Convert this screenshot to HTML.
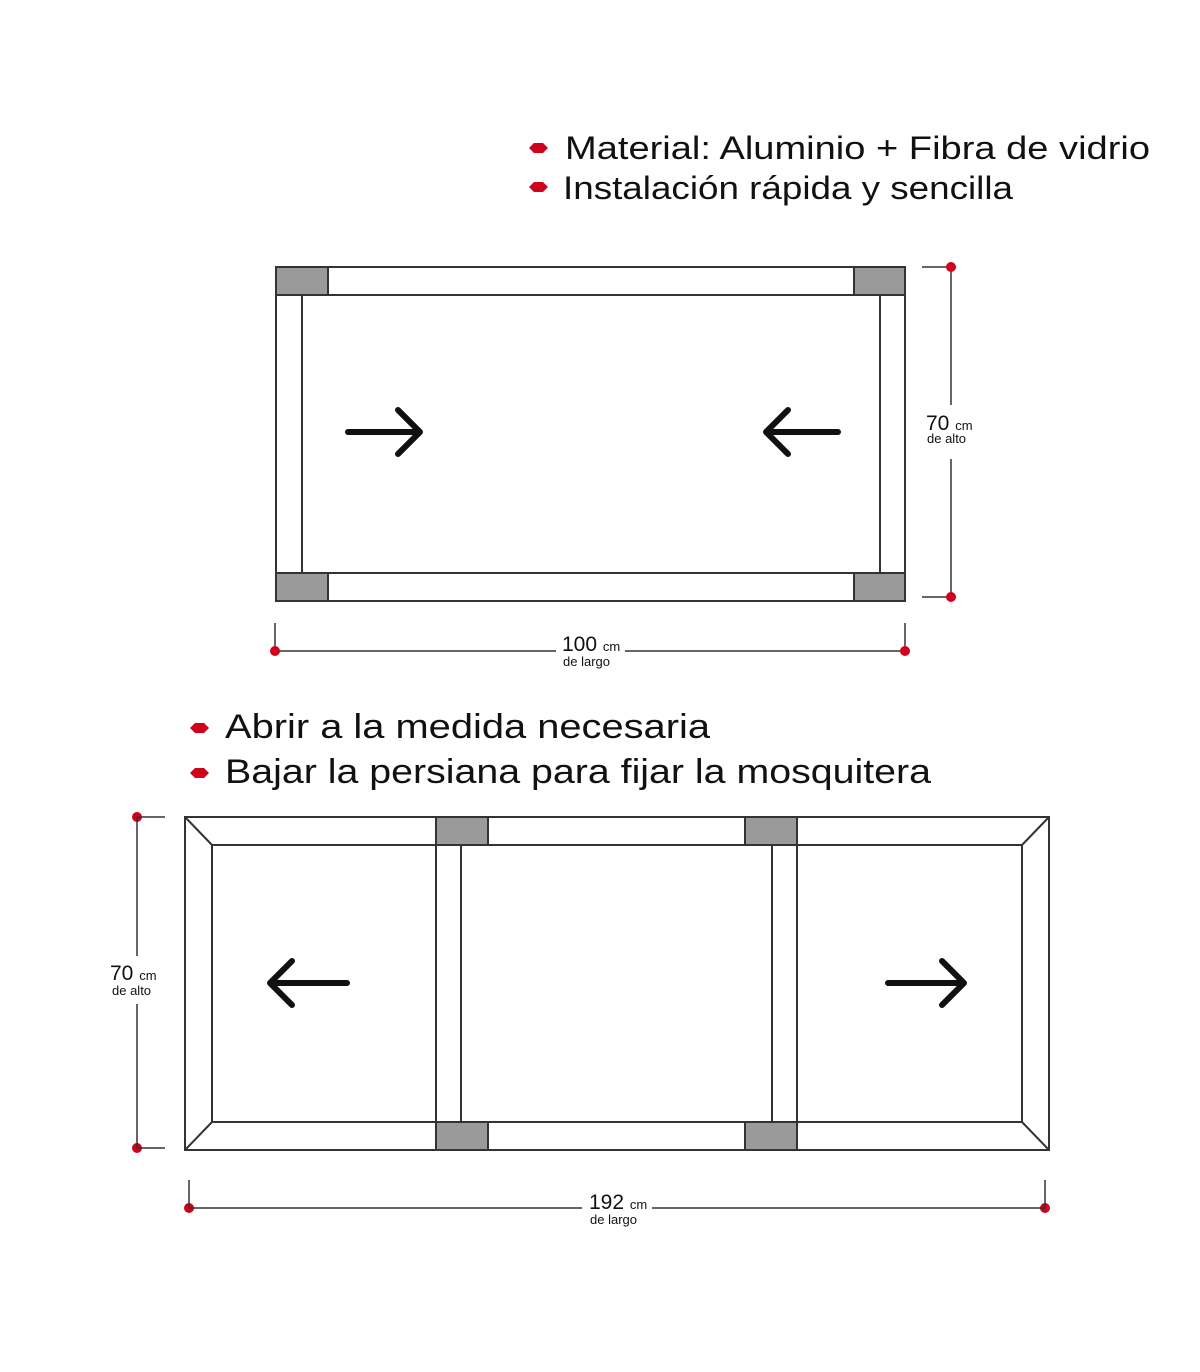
<!DOCTYPE html>
<html><head><meta charset="utf-8"><style>
html,body{margin:0;padding:0;background:#fff;}
svg{display:block;}
text{font-family:"Liberation Sans",sans-serif;fill:#111;}
</style></head><body>
<svg width="1200" height="1372" viewBox="0 0 1200 1372" xmlns="http://www.w3.org/2000/svg">
<g fill="#d0021b">
<path d="M529 148 l5 -5 h9 l5 5 l-5 5 h-9z"/>
<path d="M529 187 l5 -5 h9 l5 5 l-5 5 h-9z"/>
<path d="M190 728 l5 -5 h9 l5 5 l-5 5 h-9z"/>
<path d="M190 773 l5 -5 h9 l5 5 l-5 5 h-9z"/>
</g>
<text x="565" y="159" font-size="32" textLength="585" lengthAdjust="spacingAndGlyphs">Material: Aluminio + Fibra de vidrio</text>
<text x="563" y="199" font-size="32" textLength="450" lengthAdjust="spacingAndGlyphs">Instalación rápida y sencilla</text>
<text x="225" y="738" font-size="34" textLength="485" lengthAdjust="spacingAndGlyphs">Abrir a la medida necesaria</text>
<text x="225" y="783" font-size="34" textLength="706" lengthAdjust="spacingAndGlyphs">Bajar la persiana para fijar la mosquitera</text>

<g stroke="#333" stroke-width="2" fill="none">
<rect x="276" y="267" width="52" height="28" fill="#9a9a9a"/>
<rect x="854" y="267" width="51" height="28" fill="#9a9a9a"/>
<rect x="276" y="573" width="52" height="28" fill="#9a9a9a"/>
<rect x="854" y="573" width="51" height="28" fill="#9a9a9a"/>
<rect x="276" y="267" width="629" height="334"/>
<line x1="276" y1="295" x2="905" y2="295"/>
<line x1="276" y1="573" x2="905" y2="573"/>
<line x1="302" y1="295" x2="302" y2="573"/>
<line x1="880" y1="295" x2="880" y2="573"/>
</g>
<g stroke="#111" stroke-width="6" fill="none" stroke-linecap="round" stroke-linejoin="round">
<path d="M348 432 H420 M398 410 L420 432 L398 454"/>
<path d="M838 432 H766 M788 410 L766 432 L788 454"/>
<path d="M347 983 H270 M292 961 L270 983 L292 1005"/>
<path d="M888 983 H964 M942 961 L964 983 L942 1005"/>
</g>
<g stroke="#333" stroke-width="1.5">
<line x1="922" y1="267" x2="951" y2="267"/>
<line x1="922" y1="597" x2="951" y2="597"/>
<line x1="951" y1="267" x2="951" y2="405"/>
<line x1="951" y1="459" x2="951" y2="597"/>
<line x1="275" y1="623" x2="275" y2="651"/>
<line x1="905" y1="623" x2="905" y2="651"/>
<line x1="275" y1="651" x2="556" y2="651"/>
<line x1="625" y1="651" x2="905" y2="651"/>
</g>
<g fill="#d0021b">
<circle cx="951" cy="267" r="5"/><circle cx="951" cy="597" r="5"/>
<circle cx="275" cy="651" r="5"/><circle cx="905" cy="651" r="5"/>
<circle cx="137" cy="817" r="5"/><circle cx="137" cy="1148" r="5"/>
<circle cx="189" cy="1208" r="5"/><circle cx="1045" cy="1208" r="5"/>
</g>
<g style="fill:#222">
<text x="926" y="430" font-size="21">70 <tspan font-size="13">cm</tspan></text>
<text x="927" y="443" font-size="13">de alto</text>
<text x="562" y="651" font-size="21">100 <tspan font-size="13">cm</tspan></text>
<text x="563" y="666" font-size="13">de largo</text>
<text x="110" y="980" font-size="21">70 <tspan font-size="13">cm</tspan></text>
<text x="112" y="995" font-size="13">de alto</text>
<text x="589" y="1209" font-size="21">192 <tspan font-size="13">cm</tspan></text>
<text x="590" y="1224" font-size="13">de largo</text>
</g>

<g stroke="#333" stroke-width="2" fill="none">
<rect x="436" y="817" width="52" height="28" fill="#9a9a9a"/>
<rect x="745" y="817" width="52" height="28" fill="#9a9a9a"/>
<rect x="436" y="1122" width="52" height="28" fill="#9a9a9a"/>
<rect x="745" y="1122" width="52" height="28" fill="#9a9a9a"/>
<rect x="185" y="817" width="864" height="333"/>
<line x1="212" y1="845" x2="1022" y2="845"/>
<line x1="212" y1="1122" x2="1022" y2="1122"/>
<line x1="212" y1="845" x2="212" y2="1122"/>
<line x1="1022" y1="845" x2="1022" y2="1122"/>
<line x1="185" y1="817" x2="212" y2="845"/>
<line x1="1049" y1="817" x2="1022" y2="845"/>
<line x1="185" y1="1150" x2="212" y2="1122"/>
<line x1="1049" y1="1150" x2="1022" y2="1122"/>
<line x1="436" y1="845" x2="436" y2="1122"/>
<line x1="461" y1="845" x2="461" y2="1122"/>
<line x1="772" y1="845" x2="772" y2="1122"/>
<line x1="797" y1="845" x2="797" y2="1122"/>
</g>
<g stroke="#333" stroke-width="1.5">
<line x1="137" y1="817" x2="165" y2="817"/>
<line x1="137" y1="1148" x2="165" y2="1148"/>
<line x1="137" y1="817" x2="137" y2="956"/>
<line x1="137" y1="1004" x2="137" y2="1148"/>
<line x1="189" y1="1180" x2="189" y2="1208"/>
<line x1="1045" y1="1180" x2="1045" y2="1208"/>
<line x1="189" y1="1208" x2="582" y2="1208"/>
<line x1="652" y1="1208" x2="1045" y2="1208"/>
</g>
</svg>
</body></html>
